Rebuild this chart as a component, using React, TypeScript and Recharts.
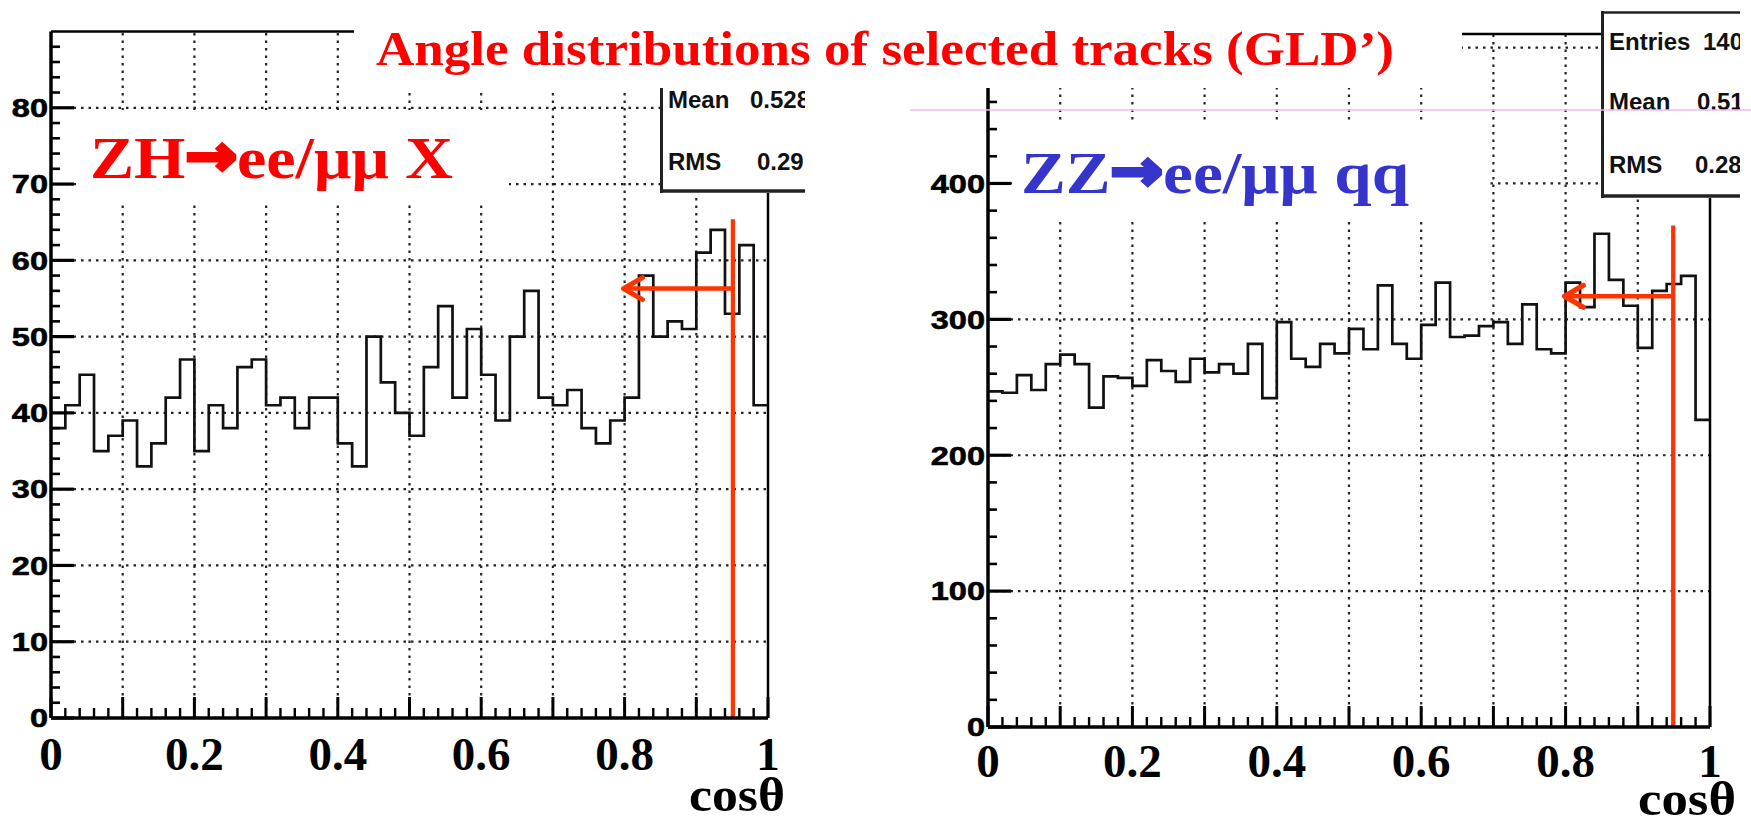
import React from 'react';
import {
  ComposedChart,
  Line,
  XAxis,
  YAxis,
  ReferenceLine,
  ReferenceDot,
} from 'recharts';

// ZH -> ee/mumu X : entries per bin of cos(theta), 50 bins from 0 to 1
const zhCounts = [
  38, 41, 45, 35, 37, 39, 33, 36, 42, 47,
  35, 41, 38, 46, 47, 41, 42, 38, 42, 42,
  36, 33, 50, 44, 40, 37, 46, 54, 42, 51,
  45, 39, 50, 56, 42, 41, 43, 38, 36, 39,
  42, 58, 50, 52, 51, 61, 64, 53, 62, 41,
];

// ZZ -> ee/mumu qq
const zzCounts = [
  247, 246, 259, 248, 267, 274, 267, 235, 258, 257,
  251, 270, 262, 254, 271, 261, 267, 260, 282, 242,
  298, 271, 265, 282, 275, 293, 278, 325, 282, 271,
  296, 327, 287, 288, 295, 298, 282, 311, 278, 275,
  327, 309, 363, 329, 310, 279, 321, 326, 332, 226,
];

const binWidth = 0.02;
const xLabelTicks = [0, 0.2, 0.4, 0.6, 0.8, 1];
const xTickLabels = ['0', '0.2', '0.4', '0.6', '0.8', '1'];
const xGrid = [0.1, 0.2, 0.3, 0.4, 0.5, 0.6, 0.7, 0.8, 0.9];
const xMinorTicks = Array.from({ length: 51 }, (_, i) => +(i * binWidth).toFixed(2));

const zhYMax = 90;
const zhYGrid = [10, 20, 30, 40, 50, 60, 70, 80];
const zhYTicks = Array.from({ length: 45 }, (_, i) => i * 2);

const zzYMax = 510;
const zzYGrid = [100, 200, 300, 400, 500];
const zzYTicks = Array.from({ length: 26 }, (_, i) => i * 20);

// selection cut drawn in red on both plots
const zhCut = { x: 0.951, top: 65.4, arrowY: 56.3, arrowTip: 0.797 };
const zzCut = { x: 0.949, top: 369, arrowY: 317, arrowTip: 0.797 };

const SERIF = "'Liberation Serif', 'Times New Roman', serif";
const SANS = "'Liberation Sans', Arial, Helvetica, sans-serif";
const CUT_RED = '#ff3300';
const GRID = { stroke: '#222', strokeWidth: 2.2, strokeDasharray: '2.5 5' };

function toSteps(counts: number[]) {
  const pts = counts.map((c, i) => ({ x: +(i * binWidth).toFixed(2), n: c }));
  pts.push({ x: 1, n: counts[counts.length - 1] });
  return pts;
}

function XTick(props: any) {
  const { x, y, payload, labelDrop } = props;
  const v = Number(payload.value);
  const tenth = Math.abs(v * 10 - Math.round(v * 10)) < 1e-6;
  const idx = xLabelTicks.findIndex((t) => Math.abs(t - v) < 1e-6);
  return (
    <g>
      <line
        x1={x}
        x2={x}
        y1={y}
        y2={y - (tenth ? 21 : 10)}
        stroke="#000"
        strokeWidth={tenth ? 3 : 2.4}
      />
      {idx >= 0 && (
        <text
          x={x}
          y={y + labelDrop}
          textAnchor="middle"
          fontFamily={SERIF}
          fontWeight="bold"
          fontSize={47}
          fill="#000"
        >
          {xTickLabels[idx]}
        </text>
      )}
    </g>
  );
}

function YTick(props: any) {
  const { x, y, payload, majorStep } = props;
  const v = Number(payload.value);
  const major = Math.abs(v / majorStep - Math.round(v / majorStep)) < 1e-6;
  return (
    <g>
      <line
        x1={x}
        x2={x + (major ? 23 : 9)}
        y1={y}
        y2={y}
        stroke="#000"
        strokeWidth={major ? 3.2 : 2.6}
      />
      {major && (
        <text
          transform={`translate(${x - 3},${y}) scale(1.25,1)`}
          textAnchor="end"
          dominantBaseline="central"
          fontFamily={SANS}
          fontWeight="bold"
          fontSize={26}
          fill="#000"
          stroke="#000"
          strokeWidth={0.6}
        >
          {v}
        </text>
      )}
    </g>
  );
}

type PanelProps = {
  counts: number[];
  yMax: number;
  yTicks: number[];
  yMajorStep: number;
  yGrid: number[];
  cut: { x: number; top: number; arrowY: number; arrowTip: number };
  width: number;
  top: number;
  right: number;
  yAxisWidth: number;
  xAxisHeight: number;
  labelDrop: number;
};

function Panel(p: PanelProps) {
  const data = toSteps(p.counts);
  return (
    <ComposedChart
      width={p.width}
      height={821}
      data={data}
      margin={{ top: p.top, right: p.right, bottom: 0, left: 0 }}
    >
      <XAxis
        type="number"
        dataKey="x"
        domain={[0, 1]}
        ticks={xMinorTicks}
        interval={0}
        allowDataOverflow
        height={p.xAxisHeight}
        tickLine={false}
        tickSize={0}
        tickMargin={0}
        axisLine={{ stroke: '#000', strokeWidth: 3.5 }}
        tick={(t: any) => <XTick {...t} labelDrop={p.labelDrop} />}
      />
      <YAxis
        type="number"
        domain={[0, p.yMax]}
        ticks={p.yTicks}
        interval={0}
        allowDataOverflow
        width={p.yAxisWidth}
        tickLine={false}
        tickSize={0}
        tickMargin={0}
        axisLine={{ stroke: '#000', strokeWidth: 3.5 }}
        tick={(t: any) => <YTick {...t} majorStep={p.yMajorStep} />}
      />
      {p.yGrid.map((v) => (
        <ReferenceLine key={`gy${v}`} y={v} {...GRID} />
      ))}
      {xGrid.map((v) => (
        <ReferenceLine key={`gx${v}`} x={v} {...GRID} />
      ))}
      <ReferenceLine y={p.yMax} stroke="#000" strokeWidth={2.5} />
      <ReferenceLine x={1} stroke="#000" strokeWidth={2.5} />
      <Line
        type="stepAfter"
        dataKey="n"
        stroke="#111"
        strokeWidth={2.7}
        dot={false}
        isAnimationActive={false}
      />
      <ReferenceLine
        segment={[
          { x: p.cut.x, y: 0 },
          { x: p.cut.x, y: p.cut.top },
        ]}
        stroke={CUT_RED}
        strokeWidth={4.2}
      />
      <ReferenceLine
        segment={[
          { x: p.cut.x, y: p.cut.arrowY },
          { x: p.cut.arrowTip + 0.003, y: p.cut.arrowY },
        ]}
        stroke={CUT_RED}
        strokeWidth={4.5}
      />
      <ReferenceDot
        x={p.cut.arrowTip}
        y={p.cut.arrowY}
        r={1}
        shape={(d: any) => (
          <path
            d={`M${d.cx + 20},${d.cy - 11} L${d.cx + 1},${d.cy} L${d.cx + 20},${d.cy + 11}`}
            fill="none"
            stroke={CUT_RED}
            strokeWidth={5}
            strokeLinecap="round"
            strokeLinejoin="round"
          />
        )}
      />
    </ComposedChart>
  );
}

function StatBox(props: {
  x: number;
  y: number;
  w: number;
  h: number;
  rows: { name: string; value: string; base: number; vx: number }[];
  topBorder?: boolean;
}) {
  const { x, y, w, h, rows, topBorder } = props;
  return (
    <svg x={x} y={y} width={w} height={h} overflow="hidden">
      <rect x={0} y={0} width={w} height={h} fill="#fff" />
      <line x1={1.5} x2={1.5} y1={0} y2={h} stroke="#222" strokeWidth={3} />
      <line x1={0} x2={w} y1={h - 2} y2={h - 2} stroke="#222" strokeWidth={3.5} />
      {topBorder && <line x1={0} x2={w} y1={1.5} y2={1.5} stroke="#222" strokeWidth={2.5} />}
      {rows.map((r) => (
        <g key={r.name} fontFamily={SANS} fontWeight="bold" fontSize={24} fill="#111">
          <text x={8} y={r.base - y}>{r.name}</text>
          <text x={r.vx - x} y={r.base - y}>{r.value}</text>
        </g>
      ))}
    </svg>
  );
}

function ProcessLabel(props: {
  x: number;
  y: number;
  width: number;
  color: string;
  left: string;
  right: string;
}) {
  const { x, y, width, color, left, right } = props;
  return (
    <text
      x={x}
      y={y}
      fontFamily={SERIF}
      fontWeight="bold"
      fontSize={60}
      fill={color}
      textLength={width}
      lengthAdjust="spacingAndGlyphs"
    >
      {left}
      <tspan fontFamily="'DejaVu Sans', sans-serif" fontSize={56} dy={-3} stroke={color} strokeWidth={4}>
        →
      </tspan>
      <tspan dy={3}>{right}</tspan>
    </text>
  );
}

export default function App() {
  return (
    <div
      style={{
        position: 'absolute',
        left: 0,
        top: 0,
        width: 1751,
        height: 821,
        background: '#fff',
        overflow: 'hidden',
      }}
    >
      <div style={{ position: 'absolute', left: 0, top: 0 }}>
        <Panel
          counts={zhCounts}
          yMax={zhYMax}
          yTicks={zhYTicks}
          yMajorStep={10}
          yGrid={zhYGrid}
          cut={zhCut}
          width={800}
          top={31.5}
          right={32}
          yAxisWidth={51}
          xAxisHeight={103}
          labelDrop={52}
        />
      </div>
      <div style={{ position: 'absolute', left: 900, top: 0 }}>
        <Panel
          counts={zzCounts}
          yMax={zzYMax}
          yTicks={zzYTicks}
          yMajorStep={100}
          yGrid={zzYGrid}
          cut={zzCut}
          width={851}
          top={34}
          right={41}
          yAxisWidth={88}
          xAxisHeight={94}
          labelDrop={50}
        />
      </div>

      <svg
        width={1751}
        height={821}
        style={{ position: 'absolute', left: 0, top: 0, pointerEvents: 'none' }}
      >
        {/* title band */}
        <rect x={354} y={0} width={1108} height={88} fill="#fff" />
        <text
          x={376}
          y={65}
          fontFamily={SERIF}
          fontWeight="bold"
          fontSize={48}
          fill="#ff0000"
          textLength={1018}
          lengthAdjust="spacingAndGlyphs"
        >
          Angle distributions of selected tracks (GLD’)
        </text>

        {/* process labels */}
        <rect x={76} y={110} width={433} height={93} fill="#fff" />
        <ProcessLabel x={90} y={178} width={363} color="#ff0000" left="ZH" right="ee/μμ X" />
        <rect x={1012} y={120} width={476} height={98} fill="#fff" />
        <ProcessLabel x={1021} y={193} width={388} color="#3535cc" left="ZZ" right="ee/μμ qq" />

        {/* stat boxes, cut at the picture edge */}
        <StatBox
          x={660}
          y={88}
          w={145}
          h={105}
          rows={[
            { name: 'Mean', value: '0.528', base: 108, vx: 750 },
            { name: 'RMS', value: '0.29', base: 170, vx: 757 },
          ]}
        />
        <StatBox
          x={1601}
          y={11}
          w={139}
          h={187}
          topBorder
          rows={[
            { name: 'Entries', value: '140', base: 50, vx: 1703 },
            { name: 'Mean', value: '0.51', base: 110, vx: 1697 },
            { name: 'RMS', value: '0.28', base: 173, vx: 1695 },
          ]}
        />

        <line x1={910} x2={1751} y1={110} y2={110} stroke="#f2b8f2" strokeWidth={1.5} />

        {/* axis titles */}
        <text
          x={689}
          y={811}
          fontFamily={SERIF}
          fontWeight="bold"
          fontSize={48}
          fill="#000"
          textLength={96}
          lengthAdjust="spacingAndGlyphs"
        >
          cosθ
        </text>
        <text
          x={1638}
          y={815}
          fontFamily={SERIF}
          fontWeight="bold"
          fontSize={48}
          fill="#000"
          textLength={98}
          lengthAdjust="spacingAndGlyphs"
        >
          cosθ
        </text>
      </svg>
    </div>
  );
}
